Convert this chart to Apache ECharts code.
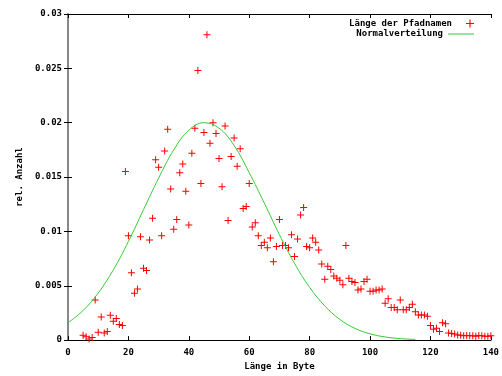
<!DOCTYPE html>
<html><head><meta charset="utf-8">
<script src="https://cdn.jsdelivr.net/npm/echarts@6/dist/echarts.min.js"></script>
<style>html,body{margin:0;padding:0;background:#fff}#c{width:502px;height:376px}</style>
</head><body><div id="c"></div>
<script>
// Measured data: path name length (bytes) vs. relative count
const lengths = [5,6,7,8,9,10,11,12,13,14,15,16,17,18,19,20,21,22,23,24,25,26,27,28,29,30,31,32,33,34,35,36,37,38,39,40,41,42,43,44,45,46,47,48,49,50,51,52,53,54,55,56,57,58,59,60,61,62,63,64,65,66,67,68,69,70,71,72,73,74,75,76,77,78,79,80,81,82,83,84,85,86,87,88,89,90,91,92,93,94,95,96,97,98,99,100,101,102,103,104,105,106,107,108,109,110,111,112,113,114,115,116,117,118,119,120,121,122,123,124,125,126,127,128,129,130,131,132,133,134,135,136,137,138,139,140];
const relCount = [0.00045,0.0003,0.0001,0.00024,0.0037,0.00072,0.00213,0.00066,0.00078,0.00228,0.00174,0.00198,0.00144,0.00135,0.0155,0.0096,0.0062,0.0043,0.0047,0.0095,0.0066,0.0064,0.0092,0.0112,0.0166,0.0159,0.0096,0.0174,0.0194,0.0139,0.0102,0.0111,0.0154,0.0162,0.0137,0.0106,0.0172,0.0195,0.0248,0.0144,0.0191,0.0281,0.0181,0.0200,0.0190,0.0167,0.0141,0.0197,0.0110,0.0169,0.0186,0.0160,0.0176,0.0121,0.0123,0.0144,0.0104,0.0108,0.0096,0.0087,0.0090,0.0085,0.0094,0.0072,0.0086,0.0111,0.0087,0.0087,0.0085,0.0097,0.0077,0.0093,0.0115,0.0122,0.0086,0.0085,0.0094,0.0090,0.0083,0.0070,0.0056,0.0068,0.0065,0.0059,0.0057,0.0055,0.0051,0.0087,0.0057,0.0054,0.0053,0.0046,0.0047,0.0054,0.0056,0.0045,0.0045,0.0046,0.0046,0.0047,0.0034,0.0038,0.0030,0.0030,0.0028,0.0037,0.0028,0.0028,0.0030,0.0033,0.0026,0.0023,0.0023,0.0023,0.0022,0.00135,0.0010,0.0011,0.0008,0.0016,0.0015,0.00066,0.0006,0.00057,0.00048,0.00045,0.0004,0.00042,0.0004,0.0004,0.00036,0.00042,0.0004,0.00036,0.00036,0.0004];
// Normal distribution curve
const normX = [0,5,10,15,20,25,30,35,40,45,50,55,60,65,70,75,80,85,90,95,100,105,110,115];
const normY = [0.00160,0.00272,0.00433,0.00646,0.00907,0.0120,0.0149,0.0175,0.0193,0.0200,0.0195,0.0179,0.0154,0.0126,0.00970,0.00705,0.00485,0.00315,0.00190,0.00108,0.00058,0.00029,0.00014,0.00006];
const xTicks = {min:0, max:140, interval:20};
const yTicks = {min:0, max:0.03, interval:0.005};
const seriesNames = ['Länge der Pfadnamen','Normalverteilung'];
const xTitle = 'Länge in Byte';
const yTitle = 'rel. Anzahl';

const FONT = 'DejaVu Sans Mono';
const GREEN = '#33cc33';
const plus = 'path://M3,0h1v3h3v1h-3v3h-1v-3h-3v-1h3z';
const chart = echarts.init(document.getElementById('c'), null, {renderer:'canvas'});
const axBase = {
  axisLine:{show:true,onZero:false,lineStyle:{color:'#000',width:1}},
  axisTick:{show:true,inside:true,length:4,lineStyle:{color:'#000'}},
  splitLine:{show:false},
  axisLabel:{color:'#000',fontFamily:FONT,fontSize:9,fontWeight:'bold'}
};
const legText = {fontFamily:FONT,fontSize:9,fontWeight:'bold',color:'#000'};
chart.setOption({
  animation:false,
  backgroundColor:'#fff',
  grid:{left:68,right:10,top:14,bottom:29,containLabel:false},
  legend:[
    {orient:'vertical', right:23, top:14, align:'right', itemWidth:26, itemHeight:8,
      textStyle:legText, data:[{name:seriesNames[0],icon:plus}]},
    {orient:'vertical', right:23, top:24.5, align:'right', itemWidth:26, itemHeight:1,
      textStyle:legText, data:[{name:seriesNames[1],icon:'rect',itemStyle:{color:GREEN}}]}
  ],
  xAxis:[
    Object.assign({}, axBase, {type:'value',position:'bottom',min:xTicks.min,max:xTicks.max,interval:xTicks.interval,
      name:xTitle,nameLocation:'middle',nameGap:21,
      nameTextStyle:legText,
      axisLabel:Object.assign({},axBase.axisLabel,{margin:8})}),
    Object.assign({}, axBase, {type:'value',position:'top',min:xTicks.min,max:xTicks.max,interval:xTicks.interval,
      axisLabel:{show:false}})
  ],
  yAxis:[
    Object.assign({}, axBase, {type:'value',position:'left',min:yTicks.min,max:yTicks.max,interval:yTicks.interval,
      name:yTitle,nameLocation:'middle',nameGap:44,nameRotate:90,
      nameTextStyle:legText,
      axisLabel:Object.assign({},axBase.axisLabel,{margin:6})}),
    Object.assign({}, axBase, {type:'value',position:'right',min:yTicks.min,max:yTicks.max,interval:yTicks.interval,
      axisLabel:{show:false},axisLine:{show:true,lineStyle:{color:'#888',width:2}}})
  ],
  series:[
    {name:seriesNames[0],type:'scatter',symbol:plus,symbolSize:7,
      itemStyle:{color:'#ff0000',opacity:1},
      data:lengths.map((x,i)=>[x,relCount[i]])},
    {name:seriesNames[1],type:'line',smooth:0.4,showSymbol:false,symbol:'none',
      lineStyle:{color:GREEN,width:1},itemStyle:{color:GREEN},
      data:normX.map((x,i)=>[x,normY[i]])}
  ]
});
</script></body></html>
